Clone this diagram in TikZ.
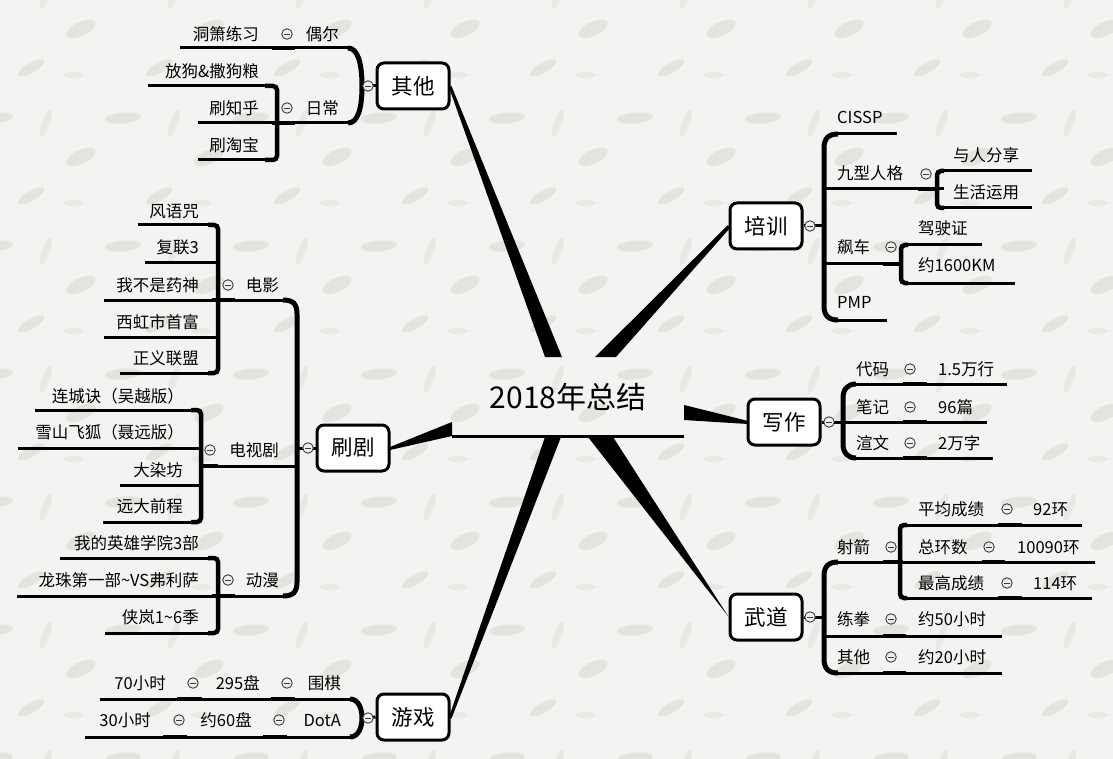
\documentclass[tikz,border=0pt]{standalone}
\usepackage{fontspec}
\newfontfamily\cjk{Noto Sans CJK SC}
\definecolor{paper}{RGB}{243,244,242}
\definecolor{blobc}{RGB}{226,228,222}
\definecolor{featc}{RGB}{231,233,228}
\definecolor{togline}{RGB}{60,60,60}
\definecolor{togfill}{RGB}{238,238,238}
\tikzset{
  lf/.style={font=\cjk\fontsize{16.5}{20}\selectfont, inner sep=0pt, text height=14.5pt, text depth=2pt},
  lfl/.style={lf, anchor=east},
  lfr/.style={lf, anchor=west},
  topic/.style={draw, line width=3pt, rounded corners=7pt, fill=white, minimum width=72pt, minimum height=46pt, inner sep=0pt, font=\cjk\fontsize{21.5}{24}\selectfont},
  rootnode/.style={font=\cjk\fontsize{30}{34}\selectfont, inner sep=0pt},
  ln/.style={line width=3pt},
  stub/.style={line width=4.5pt},
  brc/.style={line width=5pt},
  sbrc/.style={line width=4.5pt, rounded corners=4pt},
  tog/.style={circle, draw=togline, fill=togfill, line width=0.9pt, minimum size=10.5pt, inner sep=0pt,
    path picture={\draw[line width=0.8pt, togline] ([xshift=-2.8pt]path picture bounding box.center) -- ([xshift=2.8pt]path picture bounding box.center);}},
}
\begin{document}
\begin{tikzpicture}[x=1pt,y=-1pt]
\fill[paper] (0,0) rectangle (1113,759);
\useasboundingbox (0,0) rectangle (1113,759);
% paper texture
\begin{scope}
\clip (0,0) rectangle (1113,759);
\foreach \i in {0,...,9}{
  \foreach \j in {0,...,6}{
    \begin{scope}[shift={({\i*128-5},{\j*128-10})}]
      \fill[blobc, rotate around={5:(0,0)}] (0,0) ellipse [x radius=18pt, y radius=5.5pt];
      \fill[blobc, rotate around={25:(-42,39)}] (-42,39) ellipse [x radius=16pt, y radius=7pt];
      \fill[blobc, rotate around={30:(36,78)}] (36,78) ellipse [x radius=15pt, y radius=5pt];
      \fill[featc, rotate around={-20:(51,5)}] (51,5) ellipse [x radius=3.5pt, y radius=15pt];
      \fill[featc] (-50,85) ellipse [x radius=10pt, y radius=3pt];
    \end{scope}
  }
}
\end{scope}

% ---------- wedges from root ----------
\fill (449,87.5) -- (451.5,86) -- (562,357) -- (545,357) -- cycle;
\fill (728,225) -- (730,228) -- (616,357) -- (595,357) -- cycle;
\fill (390,447) -- (390,450) -- (452,436) -- (452,422) -- cycle;
\fill (748,421) -- (748,424) -- (684,420) -- (684,405) -- cycle;
\fill (728,616) -- (730,619) -- (613,437) -- (588,437) -- cycle;
\fill (449,717) -- (451.5,718.5) -- (561,437) -- (545,437) -- cycle;

% ---------- root ----------
\node[rootnode] (root) at (568,397) {2018年总结};
\coordinate (rL) at (452,436);
\coordinate (rR) at (684,436);
\draw[ln] (rL) -- (rR);

% ---------- main topics ----------
\node[topic] (qt) at (413,86) {其他};
\node[topic] (px) at (766,226) {培训};
\node[topic] (xz) at (784,422) {写作};
\node[topic] (wd) at (766,617) {武道};
\node[topic] (sj) at (353,448) {刷剧};
\node[topic] (yx) at (413,717) {游戏};

% ================= 其他 =================
\draw[brc] (348,48) .. controls (358,48) and (362,64) .. (362,86) .. controls (362,108) and (358,123) .. (348,123);
\coordinate (qtb) at (362,86);
\draw[ln] (qtb) -- (qt.west);
\node[tog] (qtt) at (368,86) {};
\draw[ln] (180,48) -- (349,48);
\draw[stub] (272,48) -- (295,48);
\node[lfl] (dx) at (259,34) {洞箫练习};
\node[tog] (oet) at (287,34) {};
\node[lfl] (oe) at (339,34) {偶尔};
\draw[ln] (277,123) -- (349,123);
\draw[stub] (272,123) -- (295,123);
\node[tog] (rct) at (287,108) {};
\node[lfl] (rc) at (339,108) {日常};
\draw[sbrc] (265,86) -- (277,86) -- (277,160) -- (265,160);
\draw[ln] (148,86) -- (270,86);
\draw[ln] (198,123) -- (277,123);
\draw[ln] (198,160) -- (270,160);
\node[lfl] (fg) at (259,71) {放狗\&撒狗粮};
\node[lfl] (zh) at (259,108) {刷知乎};
\node[lfl] (tb) at (259,145) {刷淘宝};

% ================= 刷剧 =================
\draw[brc] (283,300) .. controls (293,300) and (297,304) .. (297,314) -- (297,582) .. controls (297,592) and (293,596) .. (283,596);
\coordinate (sjb) at (297,448);
\draw[ln] (sjb) -- (sj.west);
\node[tog] (sjt) at (308,448) {};
% 电影
\draw[ln] (212,300) -- (285,300);
\draw[stub] (212,300) -- (235,300);
\node[tog] (dyt) at (228,285) {};
\node[lfl] (dy) at (279,285) {电影};
\draw[sbrc] (208,225) -- (218,225) -- (218,373) -- (208,373);
\draw[ln] (138,225) -- (212,225);
\draw[ln] (145,263) -- (218,263);
\draw[ln] (104,300) -- (218,300);
\draw[ln] (104,337) -- (218,337);
\draw[ln] (120,373) -- (212,373);
\node[lfl] (m1) at (199,211) {风语咒};
\node[lfl] (m2) at (199,247) {复联3};
\node[lfl] (m3) at (199,285) {我不是药神};
\node[lfl] (m4) at (199,322) {西虹市首富};
\node[lfl] (m5) at (199,358) {正义联盟};
% 电视剧
\draw[ln] (201,466) -- (297,466);
\draw[stub] (201,466) -- (218,466);
\node[tog] (dst) at (210,450) {};
\node[lfl] (ds) at (279,450) {电视剧};
\draw[sbrc] (191,410) -- (201,410) -- (201,522) -- (191,522);
\draw[ln] (35,410) -- (195,410);
\draw[ln] (18,448) -- (201,448);
\draw[ln] (120,485) -- (201,485);
\draw[ln] (103,522) -- (195,522);
\node[lfl] (t1) at (184,396) {连城诀（吴越版）};
\node[lfl] (t2) at (184,432) {雪山飞狐（聂远版）};
\node[lfl] (t3) at (183,470) {大染坊};
\node[lfl] (t4) at (183,506) {远大前程};
% 动漫
\draw[ln] (212,596) -- (285,596);
\draw[stub] (212,596) -- (235,596);
\node[tog] (dmt) at (228,580) {};
\node[lfl] (dm) at (279,580) {动漫};
\draw[sbrc] (208,558) -- (218,558) -- (218,633) -- (208,633);
\draw[ln] (60,558) -- (212,558);
\draw[ln] (17,596) -- (218,596);
\draw[ln] (105,633) -- (212,633);
\node[lfl] (a1) at (199,543) {我的英雄学院3部};
\node[lfl] (a2) at (199,580) {龙珠第一部\textasciitilde VS弗利萨};
\node[lfl] (a3) at (199,617) {侠岚1\textasciitilde 6季};

% ================= 游戏 =================
\draw[brc] (350,699) .. controls (358,699) and (362,708) .. (362,718) .. controls (362,728) and (358,737) .. (350,737);
\coordinate (yxb) at (362,718);
\draw[ln] (yxb) -- (yx.west);
\node[tog] (yxt) at (368,718) {};
\draw[ln] (100,699) -- (351,699);
\draw[stub] (177,699) -- (202,699);
\draw[stub] (271,699) -- (295,699);
\node[lfl] (wq1) at (166,683) {70小时};
\node[tog] (wqt1) at (193,683) {};
\node[lfl] (wq2) at (260,683) {295盘};
\node[tog] (wqt2) at (287,683) {};
\node[lfl] (wq) at (341,683) {围棋};
\draw[ln] (85,737) -- (351,737);
\draw[stub] (163,737) -- (187,737);
\draw[stub] (263,737) -- (287,737);
\node[lfl] (da1) at (151,720) {30小时};
\node[tog] (dat1) at (179,720) {};
\node[lfl] (da2) at (252,720) {约60盘};
\node[tog] (dat2) at (279,720) {};
\node[lfl] (da) at (341,720) {DotA};

% ================= 培训 =================
\draw[brc] (838,134) .. controls (829,134) and (824,138) .. (824,148) -- (824,306) .. controls (824,316) and (829,320) .. (838,320);
\coordinate (pxb) at (824,226);
\draw[ln] (pxb) -- (px.east);
\node[tog] (pxt) at (810,226) {};
\node[lfr] (p1) at (837,117) {CISSP};
\draw[ln] (836,134) -- (897,134);
\node[lfr] (p2) at (837,173) {九型人格};
\draw[ln] (824,189) -- (944,189);
\draw[stub] (918,189) -- (936,189);
\node[tog] (p2t) at (926,174) {};
\draw[sbrc] (944,171) -- (937,171) -- (937,208) -- (944,208);
\node[lfr] (p21) at (953,155) {与人分享};
\draw[ln] (942,171) -- (1032,171);
\node[lfr] (p22) at (953,192) {生活运用};
\draw[ln] (942,208) -- (1032,208);
\node[lfr] (p3) at (837,247) {飙车};
\draw[ln] (824,264) -- (901,264);
\draw[stub] (883,264) -- (903,264);
\node[tog] (p3t) at (891,247) {};
\draw[sbrc] (908,245) -- (901,245) -- (901,283) -- (908,283);
\node[lfr] (p31) at (918,228) {驾驶证};
\draw[ln] (906,245) -- (982,245);
\node[lfr] (p32) at (918,265) {约1600KM};
\draw[ln] (906,283) -- (1015,283);
\node[lfr] (p4) at (837,302) {PMP};
\draw[ln] (836,320) -- (887,320);

% ================= 写作 =================
\draw[brc] (856,384) .. controls (848,384) and (843,389) .. (843,398) -- (843,444) .. controls (843,453) and (848,458) .. (856,458);
\coordinate (xzb) at (843,422);
\draw[ln] (xzb) -- (xz.east);
\node[tog] (xzt) at (829,422) {};
\draw[ln] (855,384) -- (1007,384);
\draw[stub] (903,384) -- (927,384);
\node[lfr] (x1) at (856,369) {代码};
\node[tog] (x1t) at (910,369) {};
\node[lfr] (x1v) at (938,369) {1.5万行};
\draw[ln] (843,422) -- (987,422);
\draw[stub] (903,422) -- (927,422);
\node[lfr] (x2) at (856,407) {笔记};
\node[tog] (x2t) at (910,407) {};
\node[lfr] (x2v) at (938,407) {96篇};
\draw[ln] (855,458) -- (993,458);
\draw[stub] (903,458) -- (927,458);
\node[lfr] (x3) at (856,443) {渲文};
\node[tog] (x3t) at (910,443) {};
\node[lfr] (x3v) at (938,443) {2万字};

% ================= 武道 =================
\draw[brc] (838,562) .. controls (829,562) and (824,566) .. (824,576) -- (824,659) .. controls (824,669) and (829,673) .. (838,673);
\coordinate (wdb) at (824,617);
\draw[ln] (wdb) -- (wd.east);
\node[tog] (wdt) at (810,617) {};
\node[lfr] (w1) at (837,547) {射箭};
\node[tog] (w1t) at (891,547) {};
\draw[ln] (836,562) -- (907,562);
\draw[stub] (883,562) -- (903,562);
\draw[sbrc] (907,525) -- (900,525) -- (900,598) -- (907,598);
\node[lfr] (w11) at (918,509) {平均成绩};
\node[tog] (w11t) at (1007,509) {};
\node[lfr] (w11v) at (1033,509) {92环};
\draw[ln] (905,525) -- (1082,525);
\draw[stub] (998,525) -- (1022,525);
\node[lfr] (w12) at (918,547) {总环数};
\node[tog] (w12t) at (989,547) {};
\node[lfr] (w12v) at (1017,547) {10090环};
\draw[ln] (900,562) -- (1095,562);
\draw[stub] (982,562) -- (1005,562);
\node[lfr] (w13) at (918,583) {最高成绩};
\node[tog] (w13t) at (1007,583) {};
\node[lfr] (w13v) at (1033,583) {114环};
\draw[ln] (905,598) -- (1092,598);
\draw[stub] (998,598) -- (1022,598);
\node[lfr] (w2) at (837,619) {练拳};
\node[tog] (w2t) at (891,619) {};
\node[lfr] (w2v) at (918,619) {约50小时};
\draw[ln] (824,636) -- (1002,636);
\draw[stub] (883,636) -- (906,636);
\node[lfr] (w3) at (837,657) {其他};
\node[tog] (w3t) at (891,657) {};
\node[lfr] (w3v) at (918,657) {约20小时};
\draw[ln] (836,673) -- (1002,673);
\draw[stub] (883,673) -- (906,673);
\end{tikzpicture}
\end{document}
